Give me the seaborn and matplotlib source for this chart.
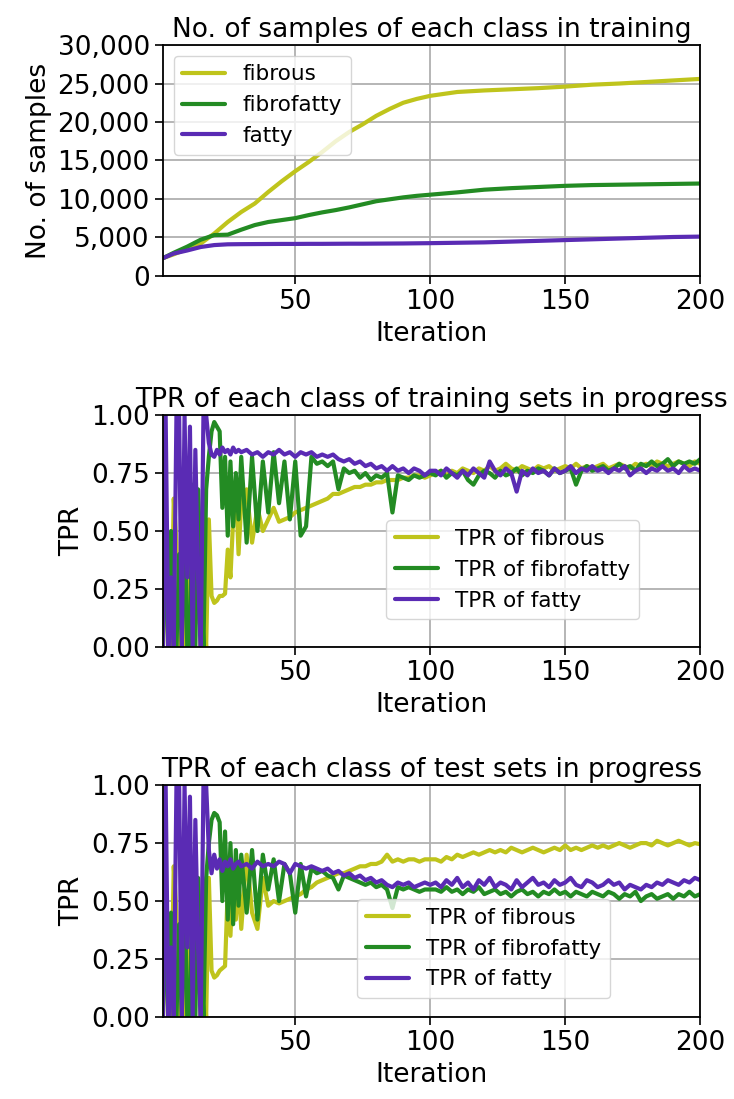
import matplotlib
matplotlib.use("Agg")
import matplotlib.pyplot as plt
from matplotlib.ticker import FuncFormatter
import seaborn as sns

# ---- data ----
iters_count = [1, 5, 10, 15, 20, 25, 30, 35, 40, 45, 50, 55, 60, 65, 70, 75, 80, 85, 90, 95,
               100, 110, 120, 130, 140, 150, 160, 170, 180, 190, 200]
count_fibrous = [2300, 2800, 3500, 4200, 5500, 7000, 8300, 9400, 10900, 12300, 13600, 14800,
                 16100, 17500, 18700, 19700, 20800, 21700, 22500, 23000, 23400, 23900, 24100,
                 24250, 24400, 24600, 24850, 25000, 25200, 25400, 25600]
count_fibrofatty = [2300, 3000, 3800, 4700, 5300, 5350, 6000, 6600, 7000, 7250, 7500, 7900,
                    8250, 8550, 8900, 9300, 9700, 9950, 10200, 10400, 10550, 10850, 11200,
                    11400, 11550, 11700, 11800, 11850, 11900, 11950, 12000]
count_fatty = [2300, 2900, 3300, 3750, 4000, 4100, 4120, 4130, 4140, 4150, 4150, 4160, 4160,
               4170, 4180, 4180, 4190, 4200, 4210, 4230, 4250, 4300, 4350, 4450, 4550, 4650,
               4750, 4850, 4950, 5050, 5100]

iters_tpr = list(range(1, 31)) + list(range(32, 201, 2))

train_fibrous = [0.0, 0.45, 0.0, 0.0, 0.64, 0.45, 0.0, 0.5, 0.0, 0.3, 0.0, 0.55, 0.1, 0.4, 0.0,
                 0.2, 0.0, 0.55, 0.22, 0.19, 0.2, 0.22, 0.22, 0.23, 0.42, 0.30, 0.55, 0.70, 0.40, 0.62,
                 0.68, 0.45, 0.60, 0.50, 0.55, 0.60, 0.54, 0.55, 0.56, 0.58, 0.59, 0.60, 0.61, 0.62,
                 0.63, 0.64, 0.66, 0.66, 0.67, 0.68, 0.69, 0.69, 0.70, 0.70, 0.71, 0.71, 0.72, 0.72,
                 0.72, 0.73, 0.73, 0.74, 0.74, 0.73, 0.74,
                 0.75, 0.76, 0.74, 0.76, 0.75, 0.77, 0.76, 0.75, 0.77, 0.76, 0.78, 0.76, 0.77, 0.79,
                 0.77, 0.76, 0.78, 0.77, 0.76, 0.78, 0.77, 0.78, 0.76, 0.77, 0.78, 0.77, 0.79, 0.77,
                 0.78, 0.77, 0.78, 0.79, 0.77, 0.78, 0.79, 0.78, 0.77, 0.79, 0.78, 0.79, 0.78, 0.80,
                 0.79, 0.78, 0.79, 0.80, 0.79, 0.78, 0.80, 0.79]
train_fibrofatty = [0.0, 0.55, 0.0, 0.5, 0.0, 0.0, 0.4, 0.0, 0.6, 0.0, 0.0, 0.7, 0.0, 0.68, 0.35,
                    0.0, 0.68, 0.82, 0.93, 0.97, 0.95, 0.93, 0.60, 0.82, 0.48, 0.80, 0.52, 0.75,
                    0.55, 0.82,
                    0.45, 0.82, 0.50, 0.80, 0.58, 0.84, 0.62, 0.80, 0.55, 0.80, 0.48, 0.52, 0.82,
                    0.79, 0.80, 0.78, 0.80, 0.68, 0.77, 0.75, 0.76, 0.73, 0.75, 0.72, 0.74, 0.73,
                    0.75, 0.58, 0.74, 0.73, 0.72, 0.74, 0.73, 0.74, 0.75,
                    0.74, 0.76, 0.73, 0.75, 0.74, 0.76, 0.72, 0.70, 0.74, 0.76, 0.75, 0.73, 0.76,
                    0.74, 0.75, 0.77, 0.74, 0.76, 0.75, 0.77, 0.76, 0.74, 0.77, 0.75, 0.76, 0.77,
                    0.70, 0.76, 0.78, 0.76, 0.77, 0.78, 0.76, 0.77, 0.79, 0.77, 0.78, 0.76, 0.79,
                    0.78, 0.80, 0.78, 0.79, 0.81, 0.78, 0.80, 0.79, 0.80, 0.79, 0.81]
train_fatty = [0.0, 1.0, 0.0, 0.3, 0.0, 1.0, 1.0, 0.0, 1.0, 0.3, 0.95, 0.0, 0.85, 0.3, 0.0, 1.0,
               1.0, 0.88, 0.83, 0.82, 0.85, 0.83, 0.86, 0.84, 0.85, 0.83, 0.86, 0.84, 0.85, 0.84,
               0.85, 0.83, 0.84, 0.82, 0.84, 0.83, 0.85, 0.83, 0.84, 0.82, 0.84, 0.83, 0.84, 0.82,
               0.83, 0.82, 0.83, 0.81, 0.80, 0.81, 0.79, 0.80, 0.78, 0.79, 0.77, 0.78, 0.76, 0.78,
               0.76, 0.77, 0.75, 0.77, 0.76, 0.74, 0.76,
               0.76, 0.74, 0.77, 0.75, 0.73, 0.76, 0.74, 0.77, 0.75, 0.73, 0.80, 0.76, 0.74, 0.77,
               0.75, 0.67, 0.76, 0.74, 0.77, 0.75, 0.76, 0.74, 0.77, 0.75, 0.76, 0.78, 0.75, 0.77,
               0.76, 0.78, 0.76, 0.77, 0.75, 0.77, 0.76, 0.78, 0.74, 0.76, 0.77, 0.75, 0.77, 0.76,
               0.78, 0.76, 0.77, 0.75, 0.78, 0.76, 0.77, 0.76]

test_fibrous = [0.0, 0.45, 0.0, 0.0, 0.65, 0.45, 0.0, 0.5, 0.0, 0.3, 0.0, 0.55, 0.1, 0.4, 0.0,
                0.2, 0.0, 0.6, 0.2, 0.17, 0.18, 0.2, 0.21, 0.22, 0.55, 0.35, 0.62, 0.42, 0.6, 0.38,
                0.70, 0.45, 0.38, 0.60, 0.48, 0.50, 0.49, 0.50, 0.51, 0.52, 0.53, 0.55, 0.56, 0.58,
                0.59, 0.60, 0.61, 0.62, 0.62, 0.63, 0.64, 0.65, 0.65, 0.66, 0.66, 0.67, 0.70, 0.67,
                0.68, 0.67, 0.68, 0.68, 0.67, 0.68, 0.68,
                0.68, 0.67, 0.69, 0.68, 0.70, 0.69, 0.70, 0.71, 0.70, 0.71, 0.72, 0.71, 0.72, 0.71,
                0.73, 0.72, 0.71, 0.72, 0.73, 0.72, 0.71, 0.72, 0.73, 0.72, 0.74, 0.72, 0.73, 0.72,
                0.73, 0.74, 0.73, 0.74, 0.73, 0.74, 0.75, 0.74, 0.73, 0.74, 0.75, 0.75, 0.74, 0.76,
                0.75, 0.74, 0.75, 0.76, 0.75, 0.74, 0.75, 0.745]
test_fibrofatty = [0.0, 0.5, 0.0, 0.45, 0.0, 0.0, 0.4, 0.0, 0.55, 0.0, 0.0, 0.65, 0.0, 0.6, 0.3,
                   0.0, 0.6, 0.75, 0.85, 0.88, 0.87, 0.84, 0.50, 0.80, 0.42, 0.75, 0.40, 0.72,
                   0.48, 0.70,
                   0.45, 0.72, 0.42, 0.70, 0.55, 0.68, 0.50, 0.66, 0.62, 0.45, 0.66, 0.52, 0.64,
                   0.62, 0.63, 0.61, 0.60, 0.55, 0.61, 0.60, 0.59, 0.58, 0.57, 0.58, 0.56, 0.57,
                   0.55, 0.47, 0.56, 0.55, 0.56, 0.55, 0.54, 0.55, 0.55,
                   0.55, 0.54, 0.56, 0.54, 0.55, 0.53, 0.55, 0.54, 0.56, 0.53, 0.54, 0.55, 0.53,
                   0.54, 0.52, 0.54, 0.55, 0.53, 0.54, 0.52, 0.54, 0.53, 0.55, 0.53, 0.54, 0.52,
                   0.54, 0.53, 0.52, 0.54, 0.53, 0.52, 0.54, 0.53, 0.51, 0.53, 0.52, 0.54, 0.50,
                   0.52, 0.53, 0.51, 0.52, 0.53, 0.51, 0.53, 0.52, 0.54, 0.52, 0.53]
test_fatty = [0.0, 1.0, 0.0, 0.3, 0.0, 1.0, 1.0, 0.0, 1.0, 0.3, 0.95, 0.0, 0.85, 0.3, 0.0, 1.0,
              1.0, 0.72, 0.62, 0.70, 0.64, 0.68, 0.63, 0.67, 0.65, 0.68, 0.64, 0.66, 0.67, 0.65,
              0.66, 0.64, 0.67, 0.65, 0.66, 0.65, 0.67, 0.66, 0.62, 0.66, 0.65, 0.64, 0.65, 0.64,
              0.63, 0.64, 0.62, 0.63, 0.61, 0.62, 0.60, 0.61, 0.59, 0.60, 0.58, 0.59, 0.57, 0.56,
              0.58, 0.57, 0.58, 0.56, 0.57, 0.58, 0.57,
              0.58, 0.56, 0.59, 0.57, 0.60, 0.56, 0.58, 0.55, 0.59, 0.57, 0.60, 0.56, 0.58, 0.57,
              0.55, 0.59, 0.56, 0.58, 0.60, 0.57, 0.58, 0.56, 0.59, 0.57, 0.58, 0.60, 0.57, 0.56,
              0.59, 0.58, 0.56, 0.57, 0.59, 0.57, 0.58, 0.55, 0.57, 0.56, 0.55, 0.57, 0.56, 0.58,
              0.57, 0.59, 0.58, 0.57, 0.59, 0.58, 0.60, 0.59]

class_names = ["fibrous", "fibrofatty", "fatty"]
colors = ["#bfc41c", "#238b23", "#5a2bb4"]

sns.set_style("ticks")
plt.rcParams["font.family"] = ["DejaVu Sans"]
plt.rcParams.update({
    "text.color": "black",
    "axes.labelcolor": "black",
    "xtick.color": "black",
    "ytick.color": "black",
})

FS = 19
LW = 3.0

fig = plt.figure(figsize=(7.34, 10.99), dpi=100)


def style_axis(ax, title, ylabel):
    ax.set_xlim(1, 200)
    ax.set_xticks([50, 100, 150, 200])
    ax.set_title(title, fontsize=FS)
    ax.set_xlabel("Iteration", fontsize=FS)
    ax.set_ylabel(ylabel, fontsize=FS)
    ax.grid(True, color="#b0b0b0", linewidth=1.3)
    ax.tick_params(labelsize=FS, length=6, width=1.2, color="black")
    for sp in ax.spines.values():
        sp.set_color("black")
        sp.set_linewidth(1.3)


# panel 1 - sample counts
ax1 = fig.add_axes([0.222, 0.749, 0.732, 0.210])
for name, vals, c in zip(class_names, [count_fibrous, count_fibrofatty, count_fatty], colors):
    sns.lineplot(x=iters_count, y=vals, ax=ax1, color=c, linewidth=LW, label=name)
ax1.set_ylim(0, 30000)
ax1.set_yticks(range(0, 30001, 5000))
ax1.yaxis.set_major_formatter(FuncFormatter(lambda v, p: f"{v:,.0f}"))
style_axis(ax1, "No. of samples of each class in training", "No. of samples")
ax1.legend(loc="upper left", fontsize=15.5)

# panel 2 - training TPR
ax2 = fig.add_axes([0.222, 0.4113, 0.732, 0.211])
for name, vals, c in zip(class_names, [train_fibrous, train_fibrofatty, train_fatty], colors):
    sns.lineplot(x=iters_tpr, y=vals, ax=ax2, color=c, linewidth=LW, label=f"TPR of {name}")
ax2.set_ylim(0, 1)
ax2.set_yticks([0, 0.25, 0.5, 0.75, 1.0])
ax2.yaxis.set_major_formatter(FuncFormatter(lambda v, p: f"{v:.2f}"))
style_axis(ax2, "TPR of each class of training sets in progress", "TPR")
ax2.legend(loc="lower right", bbox_to_anchor=(0.886, 0.12), borderaxespad=0, fontsize=15.5)

# panel 3 - test TPR
ax3 = fig.add_axes([0.222, 0.0746, 0.732, 0.211])
for name, vals, c in zip(class_names, [test_fibrous, test_fibrofatty, test_fatty], colors):
    sns.lineplot(x=iters_tpr, y=vals, ax=ax3, color=c, linewidth=LW, label=f"TPR of {name}")
ax3.set_ylim(0, 1)
ax3.set_yticks([0, 0.25, 0.5, 0.75, 1.0])
ax3.yaxis.set_major_formatter(FuncFormatter(lambda v, p: f"{v:.2f}"))
style_axis(ax3, "TPR of each class of test sets in progress", "TPR")
ax3.legend(loc="lower right", bbox_to_anchor=(0.832, 0.082), borderaxespad=0, fontsize=15.5)

fig.savefig("out.png", dpi=100)
